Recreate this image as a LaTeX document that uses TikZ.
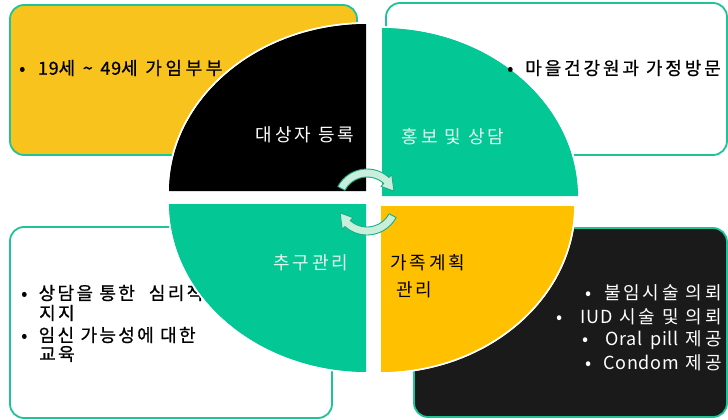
\documentclass[tikz,border=0pt]{standalone}
\usepackage{fontspec}
\setmainfont{Noto Sans CJK KR}
\newfontfamily\kr[LetterSpace=16]{Noto Sans CJK KR}
\newfontfamily\krm[LetterSpace=16,FakeBold=0.7]{Noto Sans CJK KR}
\newfontfamily\krw[LetterSpace=20,FakeBold=0.7]{Noto Sans CJK KR}
\newfontfamily\krn[LetterSpace=13,FakeBold=0.7]{Noto Sans CJK KR}
\newfontfamily\lat[LetterSpace=4]{Noto Sans CJK KR}
\newfontfamily\latb[LetterSpace=4,FakeBold=0.9]{Noto Sans CJK KR}
\newcommand{\la}[1]{{\lat #1}}
\definecolor{grn}{HTML}{1FC496}
\definecolor{qgrn}{HTML}{03C896}
\definecolor{byel}{HTML}{F8C31C}
\definecolor{qyel}{HTML}{FFC000}
\definecolor{dark}{HTML}{1A1A1A}
\definecolor{mint}{HTML}{C8EEDC}
\definecolor{pale}{HTML}{E6F6EE}
\begin{document}
\begin{tikzpicture}[x=1pt,y=-1pt,
  box/.style={draw=grn, line width=1.8pt, rounded corners=14pt},
  quad/.style={draw=white, line width=1.5pt},
  txt/.style={font=\kr\fontsize{18}{21}\selectfont, inner sep=0pt},
  mtxt/.style={txt, font=\krm\fontsize{18}{21}\selectfont},
  ntxt/.style={txt, font=\krn\fontsize{18}{21}\selectfont},
  arrowband/.style={fill=mint, draw=grn!80!black!60!grn, line width=0.9pt, line join=round}]
\useasboundingbox (0,0) rectangle (728,420);
% boxes
\draw[box, fill=byel] (10,5) rectangle (357,155);
\draw[box, fill=white] (386,3) rectangle (727,155);
\draw[box, fill=white] (10,227) rectangle (332,418);
\draw[box, fill=dark] (414,228) rectangle (727,417);
% texts clipped by quadrants
\node[txt, font=\krw\fontsize{18}{21}\selectfont, anchor=west] (t1) at (19,68) {•\; {\latb 19}세 {\latb\textasciitilde} {\latb 49}세 가임부부};
\node[ntxt, anchor=west] (b1) at (21,293) {•\; 상담을 통한\hspace{14pt}심리적};
\node[ntxt, anchor=west] (b2) at (39,313) {지지};
\node[ntxt, anchor=west] (b3) at (21,335) {•\; 임신 가능성에 대한};
\node[ntxt, anchor=west] (b4) at (39,354) {교육};
% quadrants
\fill[quad, fill=black] (367,192) -- (168,192) arc[start angle=180, end angle=270, x radius=199, y radius=169] -- cycle;
\fill[quad, fill=qgrn] (381,197) -- (381,27) arc[start angle=270, end angle=360, x radius=198, y radius=170] -- cycle;
\fill[quad, fill=qyel] (380,205) -- (575,205) arc[start angle=0, end angle=90, x radius=195, y radius=168] -- cycle;
\fill[quad, fill=qgrn] (367,203) -- (367,373) arc[start angle=90, end angle=180, x radius=199, y radius=170] -- cycle;
\draw[quad] (367,192) -- (168,192) arc[start angle=180, end angle=270, x radius=199, y radius=169] -- cycle;
\draw[quad] (381,197) -- (381,27) arc[start angle=270, end angle=360, x radius=198, y radius=170] -- cycle;
\draw[quad] (380,205) -- (575,205) arc[start angle=0, end angle=90, x radius=195, y radius=168] -- cycle;
\draw[quad] (367,203) -- (367,373) arc[start angle=90, end angle=180, x radius=199, y radius=170] -- cycle;
% quadrant labels
\node[txt, text=white] (q1) at (305,135) {대상자 등록};
\node[txt, text=pale] (q2) at (453,137) {홍보 및 상담};
\node[txt, text=pale] (q3) at (311,263) {추구관리};
\node[txt, anchor=west] (q4a) at (390,263) {가족계획};
\node[txt, anchor=west] (q4b) at (396,290) {관리};
% right texts
\node[mtxt, anchor=west] (t2) at (507,68) {•\; 마을건강원과 가정방문};
\node[txt, anchor=east, text=white] (r1) at (722,293) {•\; 불임시술 의뢰};
\node[txt, anchor=east, text=white] (r2) at (722,317) {•\quad\la{IUD} 시술 및 의뢰};
\node[txt, anchor=east, text=white] (r3) at (722,340) {•\;\; \la{Oral\, pill} 제공};
\node[txt, anchor=east, text=white] (r4) at (722,363) {•\; \la{Condom} 제공};
% circular arrows
\coordinate (ctr) at (367,202);
\begin{scope}[shift={(ctr)}, y=1pt]
  \draw[arrowband] (152:33) arc[start angle=152, end angle=48, radius=33] -- (48:37) -- (22:29) -- (48:21) -- (48:25) arc[start angle=48, end angle=152, radius=25] -- cycle;
  \draw[arrowband] (-28:33) arc[start angle=-28, end angle=-132, radius=33] -- (-132:37) -- (-158:29) -- (-132:21) -- (-132:25) arc[start angle=-132, end angle=-28, radius=25] -- cycle;
\end{scope}
\end{tikzpicture}
\end{document}
